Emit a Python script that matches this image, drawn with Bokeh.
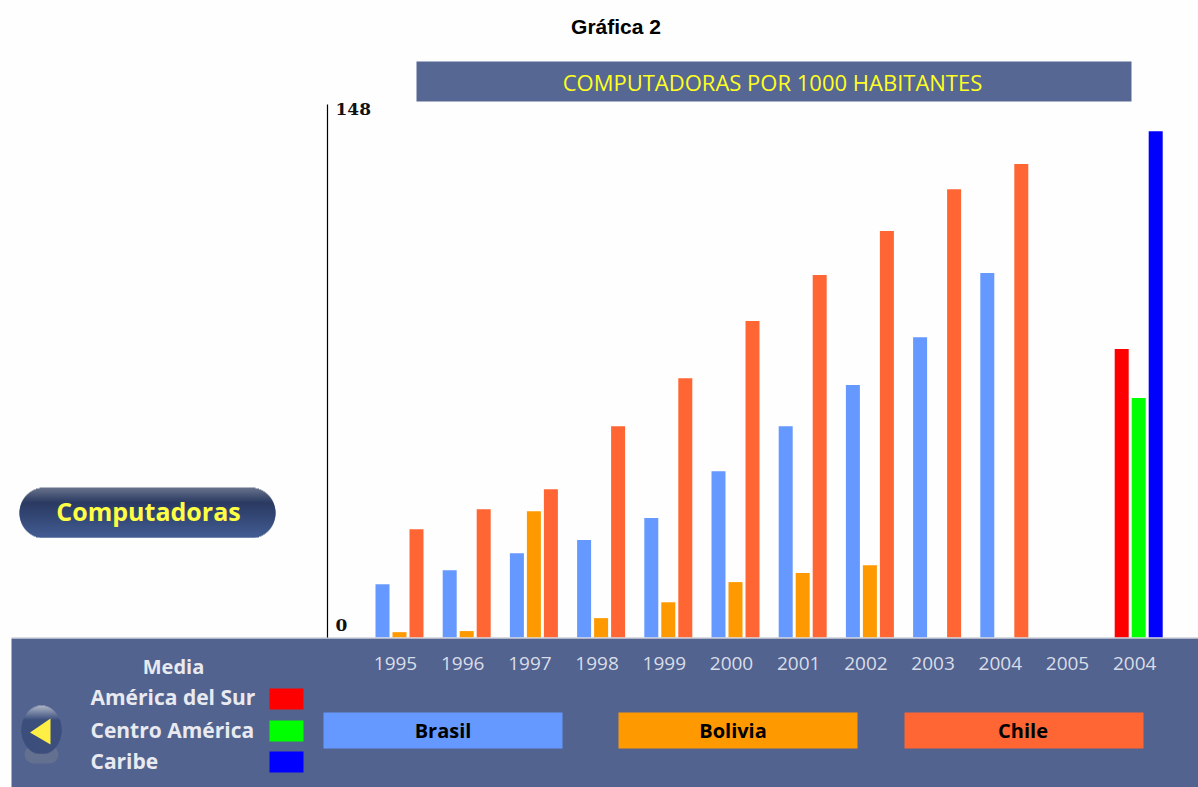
from bokeh.plotting import figure
from bokeh.models import Range1d, FixedTicker, BoxAnnotation, Label, PolyAnnotation
from bokeh.core.properties import value
from bokeh.embed import file_html
from bokeh.resources import INLINE
import math

years = ["1995","1996","1997","1998","1999","2000","2001","2002","2003","2004","2005","2004"]
brasil = [14.7,18.6,23.3,27.0,33.1,46.1,58.6,70.0,83.3,101.1]
bolivia = [1.4,1.7,35.0,5.3,9.7,15.3,17.8,20.0]
chile = [30.0,35.5,41.1,58.6,71.9,87.8,100.6,112.8,124.4,131.4]
media_names = ["América del Sur","Centro América","Caribe"]
media = [80.0,66.4,140.5]
media_colors = ["#ff0000","#00ff00","#0000ff"]
series_names = ["Brasil","Bolivia","Chile"]
series_colors = ["#6699ff","#ff9900","#ff6633"]
y_ticks = [0,148]

W,H = 1198,787
PANEL="#526390"
PX=533/148
GX=67.2
CX0=395
p = figure(width=W,height=H,output_backend="svg",toolbar_location=None,
           min_border_left=0,min_border_right=0,min_border_top=0,min_border_bottom=0,
           x_range=Range1d((0-CX0)/GX,(W-CX0)/GX),y_range=Range1d((636.7-H)/PX,636.7/PX),
           background_fill_color="#fefefe",border_fill_color="#fefefe")
p.outline_line_color=None
p.grid.visible=False

step=14/GX
def bars(vals,off,c):
    xs=[i+off for i in range(len(vals))]
    p.vbar(x=xs,top=vals,bottom=0,width=step,fill_color=c,line_color=None)
bars(brasil,-13/GX,series_colors[0])
bars(bolivia,4/GX,series_colors[1])
bars(chile,21/GX,series_colors[2])
for k,off in enumerate((-13,4,21)):
    p.vbar(x=[11+off/GX],top=[media[k]],bottom=0,width=step,fill_color=media_colors[k],line_color=None)

# axes
ya=p.yaxis[0]
ya.fixed_location=(327-CX0)/GX
ya.bounds=(0,148)
ya.ticker=FixedTicker(ticks=y_ticks)
ya.major_tick_line_color=None; ya.minor_tick_line_color=None
ya.major_label_text_color=None
ya.axis_line_color="#000000"; ya.axis_line_width=1.2
xa=p.xaxis[0]
xa.fixed_location=0
xa.ticker=FixedTicker(ticks=list(range(len(years))))
xa.major_label_overrides={i:y for i,y in enumerate(years)}
xa.axis_line_color=None; xa.major_tick_line_color=None; xa.minor_tick_line_color=None
xa.major_label_text_font="Open Sans"; xa.major_label_text_font_size="19px"
xa.major_label_text_color="#d9dde8"; xa.major_label_standoff=14

xl=(335-CX0)/GX
p.text(x=[xl],y=[y_ticks[1]],text=[str(y_ticks[1])],y_offset=5,text_font=value("DejaVu Serif"),text_font_style="bold",
       text_font_size="17px",text_baseline="middle",text_color="#111111")
p.text(x=[xl],y=[y_ticks[0]],text=[str(y_ticks[0])],y_offset=-12,text_font=value("DejaVu Serif"),text_font_style="bold",
       text_font_size="17px",text_baseline="middle",text_color="#111111")

def box(x0,y0,x1,y1,c,level="underlay",radius=0):
    p.add_layout(BoxAnnotation(left=x0,right=x1,top=y0,bottom=y1,
        left_units="canvas",right_units="canvas",top_units="canvas",bottom_units="canvas",
        fill_color=c,fill_alpha=1,line_color=None,level=level,border_radius=radius,editable=False))
def label(x,y,t,c,size,font="Open Sans",style="bold",align="left"):
    p.add_layout(Label(x=x,y=y-1.5,x_units="canvas",y_units="canvas",text=t,text_color=c,
        text_font=font,text_font_size=f"{size}px",text_font_style=style,text_align=align,text_baseline="middle"))

def lerp(a,b,t): return tuple(round(a[i]+(b[i]-a[i])*t) for i in range(3))
def rgb(c): return "#%02x%02x%02x"%c

# panels
box(11,638,1198,787,PANEL)
box(11,637,1198,638,"#b5bac8")
box(416,61,1131,101,"#566794")
label(772,83,"COMPUTADORAS POR 1000 HABITANTES","#ffff22",22,"Open Sans","normal","center")
label(615.5,27,"Gráfica 2","#000000",21,"Liberation Sans","bold","center")

# pill button (later strips cover the overlap of earlier ones)
x0,x1,y0,y1=19,275,487,537
r=(y1-y0)/2
for y in range(y0,y1):
    t=(y+0.5-y0)/(y1-y0)
    if t<0.3: c=lerp((105,115,140),(42,58,98),t/0.3)
    else: c=lerp((42,58,98),(66,92,146),(t-0.3)/0.7)
    d=abs(y+0.5-(y0+r))
    inset=r-math.sqrt(max(r*r-d*d,0))
    box(x0+inset,y,x1-inset,min(y+2,y1),rgb(c))
label(148,512,"Computadoras","#ffff44",25,"Open Sans","bold","center")

# arrow button
cx,cy,rx,ry=41,729,20,24
box(24,745,58,763,"#64708f",radius=14)
for y in range(cy-ry,cy+ry):
    t=(y+0.5-(cy-ry))/(2*ry)
    c=lerp((175,182,198),(60,78,125),min(t/0.3,1))
    d=(y+0.5-cy)/ry
    w=rx*math.sqrt(max(1-d*d,0))
    box(cx-w,y,cx+w,min(y+2,cy+ry),rgb(c))
p.add_layout(PolyAnnotation(xs=[29.5,50,50],ys=[732,718,744],xs_units="canvas",ys_units="canvas",
    fill_color="#ffee44",fill_alpha=1,line_color=None,editable=False))

# media legend
label(173,667,"Media","#e8eaf0",20,"Open Sans","bold","center")
for n,c,yt,yc in zip(media_names,media_colors,(688,720,751),(698,731,762)):
    label(90,yc,n,"#e8eaf0",21,"Open Sans","bold")
    box(269,yt,303,yt+21,c)

# series legend
for n,c,x,tc in zip(series_names,series_colors,(323,618,904),(442.5,732.5,1022.5)):
    box(x,712,x+239,748,c)
    label(tc,731,n,"#000000",20,"Open Sans","bold","center")

open("out.html","w").write(file_html(p,INLINE))
